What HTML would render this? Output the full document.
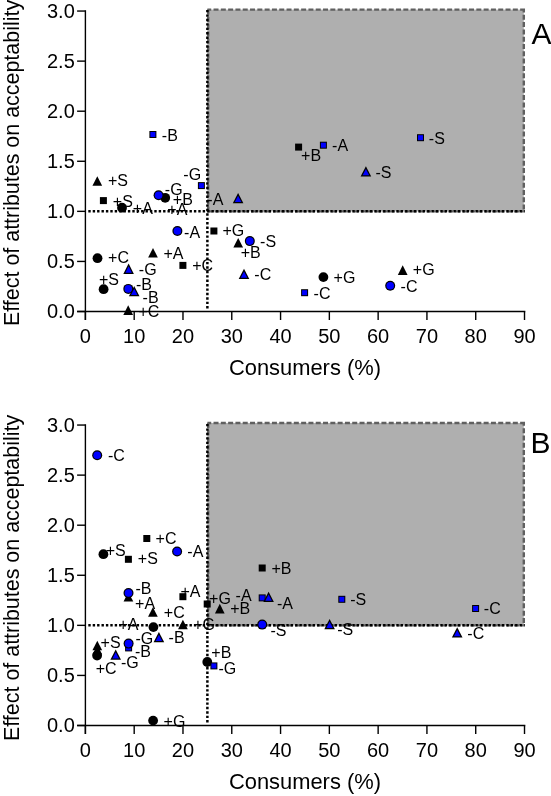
<!DOCTYPE html>
<html><head><meta charset="utf-8"><style>
html,body{margin:0;padding:0;background:#fff;}
svg{display:block;will-change:transform;}
text{font-family:"Liberation Sans",sans-serif;fill:#000;}
.l{font-size:16px;}
.t{font-size:20px;}
.ti{font-size:21.9px;}
.p{font-size:30px;}
.ty{font-size:21.45px;}
</style></head><body>
<svg width="551" height="796" viewBox="0 0 551 796">
<rect width="551" height="796" fill="#fff"/>
<rect x="207.38" y="9.60" width="316.43" height="201.75" fill="#afafaf"/>
<path d="M207.38 9.60 H525.01" fill="none" stroke="#606060" stroke-width="2.4" stroke-dasharray="5 2.3" stroke-dashoffset="1.15"/>
<path d="M523.81 9.60 V211.35" fill="none" stroke="#606060" stroke-width="2.4" stroke-dasharray="5 2.3" stroke-dashoffset="2.1"/>
<path d="M207.38 211.35 H523.81 M208.18 9.60 V211.35" fill="none" stroke="#606060" stroke-width="2.4" stroke-dasharray="5 2.3"/>
<path d="M88.30 211.35 H524.81" stroke="#000" stroke-width="2.5" stroke-dasharray="2.4 2.0" fill="none"/>
<path d="M207.38 308.50 V9.10" stroke="#000" stroke-width="2.5" stroke-dasharray="2.4 2.02" fill="none"/>
<path d="M85.40 10.25 V320.00" stroke="#000" stroke-width="1.4" fill="none"/>
<path d="M77.10 311.50 H525.31" stroke="#000" stroke-width="1.4" fill="none"/>
<path d="M77.10 311.50 H85.40" stroke="#000" stroke-width="1.4"/>
<text x="74.8" y="318.10" class="t" text-anchor="end">0.0</text>
<path d="M77.10 261.43 H85.40" stroke="#000" stroke-width="1.4"/>
<text x="74.8" y="268.03" class="t" text-anchor="end">0.5</text>
<path d="M77.10 211.35 H85.40" stroke="#000" stroke-width="1.4"/>
<text x="74.8" y="217.95" class="t" text-anchor="end">1.0</text>
<path d="M77.10 161.27 H85.40" stroke="#000" stroke-width="1.4"/>
<text x="74.8" y="167.87" class="t" text-anchor="end">1.5</text>
<path d="M77.10 111.20 H85.40" stroke="#000" stroke-width="1.4"/>
<text x="74.8" y="117.80" class="t" text-anchor="end">2.0</text>
<path d="M77.10 61.12 H85.40" stroke="#000" stroke-width="1.4"/>
<text x="74.8" y="67.72" class="t" text-anchor="end">2.5</text>
<path d="M77.10 11.05 H85.40" stroke="#000" stroke-width="1.4"/>
<text x="74.8" y="17.65" class="t" text-anchor="end">3.0</text>
<path d="M85.40 311.50 V320.00" stroke="#000" stroke-width="1.4"/>
<text x="85.40" y="342.50" class="t" text-anchor="middle">0</text>
<path d="M134.19 311.50 V320.00" stroke="#000" stroke-width="1.4"/>
<text x="134.19" y="342.50" class="t" text-anchor="middle">10</text>
<path d="M182.98 311.50 V320.00" stroke="#000" stroke-width="1.4"/>
<text x="182.98" y="342.50" class="t" text-anchor="middle">20</text>
<path d="M231.77 311.50 V320.00" stroke="#000" stroke-width="1.4"/>
<text x="231.77" y="342.50" class="t" text-anchor="middle">30</text>
<path d="M280.56 311.50 V320.00" stroke="#000" stroke-width="1.4"/>
<text x="280.56" y="342.50" class="t" text-anchor="middle">40</text>
<path d="M329.35 311.50 V320.00" stroke="#000" stroke-width="1.4"/>
<text x="329.35" y="342.50" class="t" text-anchor="middle">50</text>
<path d="M378.14 311.50 V320.00" stroke="#000" stroke-width="1.4"/>
<text x="378.14" y="342.50" class="t" text-anchor="middle">60</text>
<path d="M426.93 311.50 V320.00" stroke="#000" stroke-width="1.4"/>
<text x="426.93" y="342.50" class="t" text-anchor="middle">70</text>
<path d="M475.72 311.50 V320.00" stroke="#000" stroke-width="1.4"/>
<text x="475.72" y="342.50" class="t" text-anchor="middle">80</text>
<path d="M524.51 311.50 V320.00" stroke="#000" stroke-width="1.4"/>
<text x="524.51" y="342.50" class="t" text-anchor="middle">90</text>
<text x="304.95" y="374.80" class="ti" text-anchor="middle">Consumers (%)</text>
<text transform="translate(19.0 326) rotate(-90)" class="ty">Effect of attributes on acceptability</text>
<text x="531.4" y="43.7" class="p">A</text>
<polygon points="97.30,176.25 102.15,185.80 92.45,185.80" fill="#000"/>
<rect x="99.90" y="197.10" width="7.0" height="7.0" fill="#000"/>
<circle cx="122.0" cy="207.7" r="4.9" fill="#000"/>
<circle cx="165.2" cy="197.8" r="4.9" fill="#000"/>
<circle cx="158.6" cy="195.3" r="5.0" fill="#000"/><circle cx="158.6" cy="195.3" r="3.8" fill="#0000ff"/>
<rect x="197.90" y="182.10" width="7.0" height="7.0" fill="#000"/><rect x="198.90" y="183.10" width="5.0" height="5.0" fill="#0000ff"/>
<circle cx="177.4" cy="231.0" r="5.0" fill="#000"/><circle cx="177.4" cy="231.0" r="3.8" fill="#0000ff"/>
<rect x="149.40" y="131.00" width="7.0" height="7.0" fill="#000"/><rect x="150.40" y="132.00" width="5.0" height="5.0" fill="#0000ff"/>
<circle cx="97.5" cy="258.2" r="4.9" fill="#000"/>
<polygon points="153.00,247.95 157.85,257.50 148.15,257.50" fill="#000"/>
<rect x="179.40" y="261.90" width="7.0" height="7.0" fill="#000"/>
<polygon points="128.60,263.60 133.90,273.90 123.30,273.90" fill="#000"/><polygon points="128.60,266.33 131.85,272.65 125.35,272.65" fill="#0000ff"/>
<circle cx="103.6" cy="289.2" r="4.9" fill="#000"/>
<circle cx="128.3" cy="288.9" r="5.0" fill="#000"/><circle cx="128.3" cy="288.9" r="3.8" fill="#0000ff"/>
<polygon points="134.20,286.00 139.50,296.30 128.90,296.30" fill="#000"/><polygon points="134.20,288.73 137.45,295.05 130.95,295.05" fill="#0000ff"/>
<polygon points="128.20,305.35 133.05,314.90 123.35,314.90" fill="#000"/>
<polygon points="238.10,193.00 243.40,203.30 232.80,203.30" fill="#000"/><polygon points="238.10,195.73 241.35,202.05 234.85,202.05" fill="#0000ff"/>
<rect x="210.40" y="227.50" width="7.0" height="7.0" fill="#000"/>
<polygon points="238.20,238.05 243.05,247.60 233.35,247.60" fill="#000"/>
<circle cx="249.8" cy="241.1" r="5.0" fill="#000"/><circle cx="249.8" cy="241.1" r="3.8" fill="#0000ff"/>
<polygon points="244.00,268.80 249.30,279.10 238.70,279.10" fill="#000"/><polygon points="244.00,271.53 247.25,277.85 240.75,277.85" fill="#0000ff"/>
<rect x="301.10" y="289.20" width="7.0" height="7.0" fill="#000"/><rect x="302.10" y="290.20" width="5.0" height="5.0" fill="#0000ff"/>
<circle cx="323.4" cy="277.1" r="4.9" fill="#000"/>
<polygon points="402.70,265.35 407.55,274.90 397.85,274.90" fill="#000"/>
<circle cx="390.2" cy="285.7" r="5.0" fill="#000"/><circle cx="390.2" cy="285.7" r="3.8" fill="#0000ff"/>
<rect x="295.10" y="143.60" width="7.0" height="7.0" fill="#000"/>
<rect x="319.90" y="141.70" width="7.0" height="7.0" fill="#000"/><rect x="320.90" y="142.70" width="5.0" height="5.0" fill="#0000ff"/>
<polygon points="365.90,166.30 371.20,176.60 360.60,176.60" fill="#000"/><polygon points="365.90,169.03 369.15,175.35 362.65,175.35" fill="#0000ff"/>
<rect x="417.00" y="134.20" width="7.0" height="7.0" fill="#000"/><rect x="418.00" y="135.20" width="5.0" height="5.0" fill="#0000ff"/>
<text x="107.90" y="186.10" class="l">+S</text>
<text x="112.80" y="206.60" class="l">+S</text>
<text x="132.80" y="213.60" class="l">+A</text>
<text x="164.80" y="194.60" class="l">-G</text>
<text x="172.80" y="205.20" class="l">+B</text>
<text x="167.30" y="214.90" class="l">+A</text>
<text x="183.30" y="179.90" class="l">-G</text>
<text x="184.10" y="238.40" class="l">-A</text>
<text x="161.80" y="140.60" class="l">-B</text>
<text x="108.10" y="263.40" class="l">+C</text>
<text x="163.50" y="258.60" class="l">+A</text>
<text x="192.20" y="271.40" class="l">+C</text>
<text x="138.80" y="275.10" class="l">-G</text>
<text x="98.90" y="284.60" class="l">+S</text>
<text x="135.90" y="290.10" class="l">-B</text>
<text x="142.60" y="302.90" class="l">-B</text>
<text x="138.50" y="316.60" class="l">+C</text>
<text x="207.30" y="205.10" class="l">-A</text>
<text x="222.40" y="236.10" class="l">+G</text>
<text x="260.10" y="246.60" class="l">-S</text>
<text x="240.70" y="258.40" class="l">+B</text>
<text x="254.30" y="280.40" class="l">-C</text>
<text x="313.60" y="299.40" class="l">-C</text>
<text x="333.60" y="283.30" class="l">+G</text>
<text x="412.80" y="274.60" class="l">+G</text>
<text x="400.60" y="291.80" class="l">-C</text>
<text x="301.10" y="161.40" class="l">+B</text>
<text x="332.10" y="151.40" class="l">-A</text>
<text x="375.50" y="177.60" class="l">-S</text>
<text x="428.80" y="143.50" class="l">-S</text>
<rect x="207.38" y="422.95" width="316.43" height="202.40" fill="#afafaf"/>
<path d="M207.38 422.95 H525.01" fill="none" stroke="#606060" stroke-width="2.4" stroke-dasharray="5 2.3" stroke-dashoffset="1.15"/>
<path d="M523.81 422.95 V625.35" fill="none" stroke="#606060" stroke-width="2.4" stroke-dasharray="5 2.3" stroke-dashoffset="2.1"/>
<path d="M207.38 625.35 H523.81 M208.18 422.95 V625.35" fill="none" stroke="#606060" stroke-width="2.4" stroke-dasharray="5 2.3"/>
<path d="M88.30 625.35 H524.81" stroke="#000" stroke-width="2.5" stroke-dasharray="2.4 2.0" fill="none"/>
<path d="M207.38 722.50 V422.45" stroke="#000" stroke-width="2.5" stroke-dasharray="2.4 2.02" fill="none"/>
<path d="M85.40 424.25 V734.00" stroke="#000" stroke-width="1.4" fill="none"/>
<path d="M77.10 725.50 H525.31" stroke="#000" stroke-width="1.4" fill="none"/>
<path d="M77.10 725.50 H85.40" stroke="#000" stroke-width="1.4"/>
<text x="74.8" y="732.10" class="t" text-anchor="end">0.0</text>
<path d="M77.10 675.42 H85.40" stroke="#000" stroke-width="1.4"/>
<text x="74.8" y="682.02" class="t" text-anchor="end">0.5</text>
<path d="M77.10 625.35 H85.40" stroke="#000" stroke-width="1.4"/>
<text x="74.8" y="631.95" class="t" text-anchor="end">1.0</text>
<path d="M77.10 575.27 H85.40" stroke="#000" stroke-width="1.4"/>
<text x="74.8" y="581.88" class="t" text-anchor="end">1.5</text>
<path d="M77.10 525.20 H85.40" stroke="#000" stroke-width="1.4"/>
<text x="74.8" y="531.80" class="t" text-anchor="end">2.0</text>
<path d="M77.10 475.12 H85.40" stroke="#000" stroke-width="1.4"/>
<text x="74.8" y="481.73" class="t" text-anchor="end">2.5</text>
<path d="M77.10 425.05 H85.40" stroke="#000" stroke-width="1.4"/>
<text x="74.8" y="431.65" class="t" text-anchor="end">3.0</text>
<path d="M85.40 725.50 V734.00" stroke="#000" stroke-width="1.4"/>
<text x="85.40" y="756.50" class="t" text-anchor="middle">0</text>
<path d="M134.19 725.50 V734.00" stroke="#000" stroke-width="1.4"/>
<text x="134.19" y="756.50" class="t" text-anchor="middle">10</text>
<path d="M182.98 725.50 V734.00" stroke="#000" stroke-width="1.4"/>
<text x="182.98" y="756.50" class="t" text-anchor="middle">20</text>
<path d="M231.77 725.50 V734.00" stroke="#000" stroke-width="1.4"/>
<text x="231.77" y="756.50" class="t" text-anchor="middle">30</text>
<path d="M280.56 725.50 V734.00" stroke="#000" stroke-width="1.4"/>
<text x="280.56" y="756.50" class="t" text-anchor="middle">40</text>
<path d="M329.35 725.50 V734.00" stroke="#000" stroke-width="1.4"/>
<text x="329.35" y="756.50" class="t" text-anchor="middle">50</text>
<path d="M378.14 725.50 V734.00" stroke="#000" stroke-width="1.4"/>
<text x="378.14" y="756.50" class="t" text-anchor="middle">60</text>
<path d="M426.93 725.50 V734.00" stroke="#000" stroke-width="1.4"/>
<text x="426.93" y="756.50" class="t" text-anchor="middle">70</text>
<path d="M475.72 725.50 V734.00" stroke="#000" stroke-width="1.4"/>
<text x="475.72" y="756.50" class="t" text-anchor="middle">80</text>
<path d="M524.51 725.50 V734.00" stroke="#000" stroke-width="1.4"/>
<text x="524.51" y="756.50" class="t" text-anchor="middle">90</text>
<text x="304.95" y="788.80" class="ti" text-anchor="middle">Consumers (%)</text>
<text transform="translate(19.0 741) rotate(-90)" class="ty">Effect of attributes on acceptability</text>
<text x="530.6" y="453.1" class="p">B</text>
<circle cx="97.2" cy="455.3" r="5.0" fill="#000"/><circle cx="97.2" cy="455.3" r="3.8" fill="#0000ff"/>
<rect x="143.30" y="535.00" width="7.0" height="7.0" fill="#000"/>
<circle cx="103.4" cy="554.2" r="4.9" fill="#000"/>
<rect x="124.90" y="555.80" width="7.0" height="7.0" fill="#000"/>
<circle cx="177.1" cy="551.5" r="5.0" fill="#000"/><circle cx="177.1" cy="551.5" r="3.8" fill="#0000ff"/>
<polygon points="128.40,591.95 133.25,601.50 123.55,601.50" fill="#000"/>
<circle cx="128.5" cy="593.0" r="5.0" fill="#000"/><circle cx="128.5" cy="593.0" r="3.8" fill="#0000ff"/>
<rect x="179.40" y="593.20" width="7.0" height="7.0" fill="#000"/>
<rect x="203.70" y="600.50" width="7.0" height="7.0" fill="#000"/>
<polygon points="152.90,607.25 157.75,616.80 148.05,616.80" fill="#000"/>
<circle cx="153.4" cy="627.1" r="4.9" fill="#000"/>
<polygon points="182.90,619.65 187.75,629.20 178.05,629.20" fill="#000"/>
<polygon points="158.90,632.00 164.20,642.30 153.60,642.30" fill="#000"/><polygon points="158.90,634.73 162.15,641.05 155.65,641.05" fill="#0000ff"/>
<rect x="125.10" y="644.40" width="7.0" height="7.0" fill="#000"/><rect x="126.10" y="645.40" width="5.0" height="5.0" fill="#0000ff"/>
<circle cx="128.6" cy="643.6" r="5.0" fill="#000"/><circle cx="128.6" cy="643.6" r="3.8" fill="#0000ff"/>
<circle cx="97.1" cy="655.5" r="4.9" fill="#000"/>
<polygon points="97.30,645.05 102.15,654.60 92.45,654.60" fill="#000"/>
<polygon points="97.30,640.65 102.15,650.20 92.45,650.20" fill="#000"/>
<polygon points="115.70,649.50 121.00,659.80 110.40,659.80" fill="#000"/><polygon points="115.70,652.23 118.95,658.55 112.45,658.55" fill="#0000ff"/>
<circle cx="153.1" cy="720.6" r="4.9" fill="#000"/>
<circle cx="207.3" cy="662.0" r="4.9" fill="#000"/>
<rect x="210.40" y="662.40" width="7.0" height="7.0" fill="#000"/><rect x="211.40" y="663.40" width="5.0" height="5.0" fill="#0000ff"/>
<rect x="258.70" y="564.50" width="7.0" height="7.0" fill="#000"/>
<rect x="258.70" y="594.40" width="7.0" height="7.0" fill="#000"/><rect x="259.70" y="595.40" width="5.0" height="5.0" fill="#0000ff"/>
<polygon points="268.60,591.70 273.90,602.00 263.30,602.00" fill="#000"/><polygon points="268.60,594.43 271.85,600.75 265.35,600.75" fill="#0000ff"/>
<polygon points="219.80,603.85 224.65,613.40 214.95,613.40" fill="#000"/>
<circle cx="262.2" cy="624.6" r="5.0" fill="#000"/><circle cx="262.2" cy="624.6" r="3.8" fill="#0000ff"/>
<rect x="338.30" y="595.80" width="7.0" height="7.0" fill="#000"/><rect x="339.30" y="596.80" width="5.0" height="5.0" fill="#0000ff"/>
<polygon points="329.60,619.00 334.90,629.30 324.30,629.30" fill="#000"/><polygon points="329.60,621.73 332.85,628.05 326.35,628.05" fill="#0000ff"/>
<rect x="472.10" y="605.00" width="7.0" height="7.0" fill="#000"/><rect x="473.10" y="606.00" width="5.0" height="5.0" fill="#0000ff"/>
<polygon points="457.20,627.30 462.50,637.60 451.90,637.60" fill="#000"/><polygon points="457.20,630.03 460.45,636.35 453.95,636.35" fill="#0000ff"/>
<text x="107.90" y="461.40" class="l">-C</text>
<text x="155.60" y="544.00" class="l">+C</text>
<text x="105.70" y="555.60" class="l">+S</text>
<text x="137.80" y="564.20" class="l">+S</text>
<text x="187.30" y="557.10" class="l">-A</text>
<text x="135.50" y="593.60" class="l">-B</text>
<text x="180.40" y="596.60" class="l">+A</text>
<text x="135.10" y="609.00" class="l">+A</text>
<text x="163.80" y="617.90" class="l">+C</text>
<text x="118.50" y="629.80" class="l">+A</text>
<text x="193.20" y="629.80" class="l">+G</text>
<text x="168.60" y="643.10" class="l">-B</text>
<text x="135.50" y="643.90" class="l">-G</text>
<text x="100.60" y="647.60" class="l">+S</text>
<text x="135.00" y="657.20" class="l">-B</text>
<text x="120.90" y="668.20" class="l">-G</text>
<text x="95.70" y="674.10" class="l">+C</text>
<text x="163.60" y="726.80" class="l">+G</text>
<text x="211.30" y="658.20" class="l">+B</text>
<text x="218.40" y="674.10" class="l">-G</text>
<text x="271.50" y="574.30" class="l">+B</text>
<text x="235.60" y="600.50" class="l">-A</text>
<text x="277.00" y="608.60" class="l">-A</text>
<text x="209.10" y="604.40" class="l">+G</text>
<text x="230.20" y="614.40" class="l">+B</text>
<text x="270.40" y="635.90" class="l">-S</text>
<text x="350.20" y="605.40" class="l">-S</text>
<text x="337.20" y="635.10" class="l">-S</text>
<text x="483.80" y="614.10" class="l">-C</text>
<text x="467.30" y="638.60" class="l">-C</text>
</svg>
</body></html>
